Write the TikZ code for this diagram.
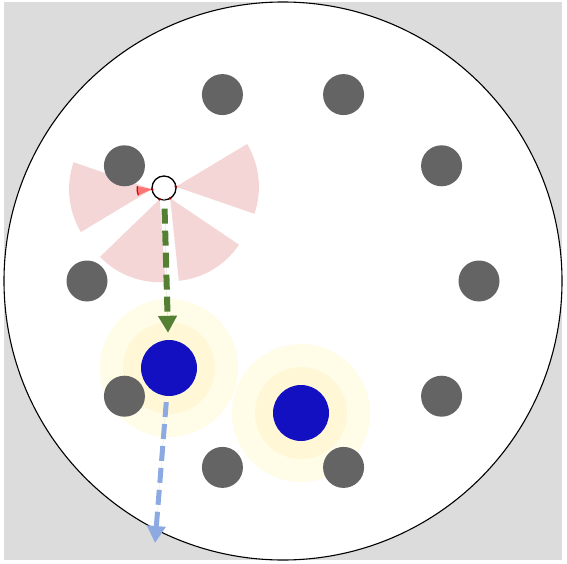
\documentclass[tikz,border=0pt]{standalone}
\usetikzlibrary{arrows.meta,calc}
\definecolor{bggrey}{RGB}{220,220,220}
\definecolor{obsgrey}{RGB}{100,100,100}
\definecolor{agentblue}{RGB}{18,16,192}
\definecolor{haloout}{RGB}{255,252,232}
\definecolor{haloin}{RGB}{255,247,214}
\definecolor{sensorpink}{RGB}{245,214,214}
\definecolor{pathgreen}{RGB}{84,128,52}
\definecolor{pathblue}{RGB}{140,170,225}
\tikzset{
  obstacle/.style={circle,fill=obsgrey,minimum size=41pt,inner sep=0pt},
  agent/.style={circle,fill=agentblue,minimum size=56pt,inner sep=0pt},
  robotbody/.style={circle,draw=black,line width=1.3pt,fill=white,minimum size=24pt,inner sep=0pt},
  sensordot/.style={circle,fill=red!60!black,minimum size=3pt,inner sep=0pt},
  pathline/.style={line width=6pt,dash pattern=on 15pt off 7pt,-{Triangle[length=17pt,width=18pt]}},
}
\begin{document}
\begin{tikzpicture}[x=1pt,y=1pt]
\useasboundingbox (0,0) rectangle (567,563);
% background
\fill[bggrey] (4,3) rectangle (562,561);
\coordinate (c) at (283,282);
\fill[white] (c) circle[radius=279];
\draw[black,line width=1.1pt] (c) circle[radius=279];
% halos
\foreach \p in {(169,195),(301,150)}{
  \fill[haloout] \p circle[radius=69];
  \fill[haloin] \p circle[radius=46];
}
% robot & sensors
\coordinate (rc) at (164,375);
\foreach \a/\n in {186/s1,6/s2,-111/s3,-59/s4}{
  \coordinate (\n) at ($(rc)+(\a:12)$);
  \fill[sensorpink] (\n) -- ++(\a-25:83) arc[start angle=\a-25,end angle=\a+25,radius=83] -- cycle;
}
% close reading on left sensor
\fill[red!55] (s1) -- ++(168:15) arc[start angle=168,end angle=204,radius=15] -- cycle;
\draw[red!85!black,line width=1.2pt] ($(s1)+(168:15)$) arc[start angle=168,end angle=204,radius=15];
% obstacles
\foreach \i in {0,...,9}{
  \node[obstacle] (o\i) at ($(c)+(\i*36:196)$) {};
}
% agents
\node[agent] (a1) at (169,195) {};
\node[agent] (a2) at (301,150) {};
% robot
\node[robotbody] (robot) at (rc) {};
\foreach \n in {s1,s2,s3,s4}{
  \node[sensordot] at (\n) {};
}
\node[circle,fill=gray,minimum size=3pt,inner sep=0pt] (s0) at ($(rc)+(-90:12)$) {};
% paths
\draw[pathline,draw=pathgreen,fill=pathgreen,shorten <=8pt,shorten >=7pt] (robot) -- (a1);
\coordinate (goal) at (155,20);
\draw[pathline,draw=pathblue,fill=pathblue,line width=5pt,shorten <=6pt] (a1) -- (goal);
\end{tikzpicture}
\end{document}
